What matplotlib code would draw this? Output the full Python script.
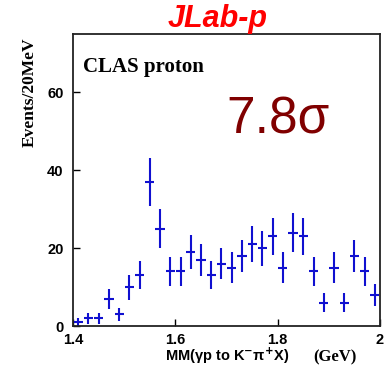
import matplotlib
matplotlib.use('Agg')
import matplotlib.pyplot as plt

# Datos (bins de 20 MeV)
masa = [1.41, 1.43, 1.45, 1.47, 1.49, 1.51, 1.53, 1.55, 1.57, 1.59,
        1.61, 1.63, 1.65, 1.67, 1.69, 1.71, 1.73, 1.75, 1.77, 1.79,
        1.81, 1.83, 1.85, 1.87, 1.89, 1.91, 1.93, 1.95, 1.97, 1.99]
eventos = [1, 2, 2, 7, 3, 10, 13, 37, 25, 14,
           14, 19, 17, 13, 16, 15, 18, 21, 20, 23,
           15, 24, 23, 14, 6, 15, 6, 18, 14, 8]
errores = [1.0, 1.4, 1.4, 2.6, 1.7, 3.2, 3.6, 6.1, 5.0, 3.7,
           3.7, 4.4, 4.1, 3.6, 4.0, 3.9, 4.2, 4.6, 4.5, 4.8,
           3.9, 4.9, 4.8, 3.7, 2.4, 3.9, 2.4, 4.2, 3.7, 2.8]
ancho_bin = 0.009

xticks = [1.4, 1.6, 1.8, 2.0]
xtick_labels = ['1.4', '1.6', '1.8', '2']
yticks = [0, 20, 40, 60]

fig = plt.figure(figsize=(3.85, 3.73), dpi=100)
ax = fig.add_axes([0.19, 0.126, 0.797, 0.783])

ax.errorbar(masa, eventos, yerr=errores, xerr=ancho_bin, fmt='none',
            ecolor='#1010d0', elinewidth=1.5, capsize=0)

ax.set_xlim(1.4, 2.0)
ax.set_ylim(0, 75)
ax.set_xticks(xticks)
ax.set_xticklabels(xtick_labels)
ax.set_yticks(yticks)
ax.tick_params(direction='in', length=5, width=1, labelsize=10.5)
ax.tick_params(axis='x', pad=5)
ax.tick_params(axis='y', pad=7)
for lab in ax.get_xticklabels() + ax.get_yticklabels():
    lab.set_fontweight('bold')
    lab.set_family('Liberation Sans')
for sp in ax.spines.values():
    sp.set_linewidth(1.3)
    sp.set_color('#222222')

# Textos
ax.text(0.032, 0.87, 'CLAS proton', transform=ax.transAxes,
        family='Liberation Serif', fontweight='bold', fontsize=15, va='baseline')
ax.text(0.5, 0.66, '7.8σ', transform=ax.transAxes, color='#800000',
        family='Liberation Sans', fontsize=37, va='baseline')

fig.text(218 / 385, 1 - 27 / 373, 'JLab-p', color='red', ha='center',
         va='baseline', family='Liberation Sans', fontweight='bold',
         style='italic', fontsize=22)
fig.text(30 / 385, 1 - 92 / 373, 'Events/20MeV', rotation=90, ha='center',
         va='center', family='Liberation Serif', fontweight='bold', fontsize=12.5)
fig.text(165 / 385, 1 - 361 / 373, r'MM(γp to K$^{\mathbf{-}}$π$^{\mathbf{+}}$X)',
         family='Liberation Sans', fontweight='bold', fontsize=10.5, va='baseline')
fig.text(313 / 385, 1 - 361 / 373, '(GeV)', family='Liberation Serif',
         fontweight='bold', fontsize=12, va='baseline')

plt.savefig('out.png', dpi=100)
